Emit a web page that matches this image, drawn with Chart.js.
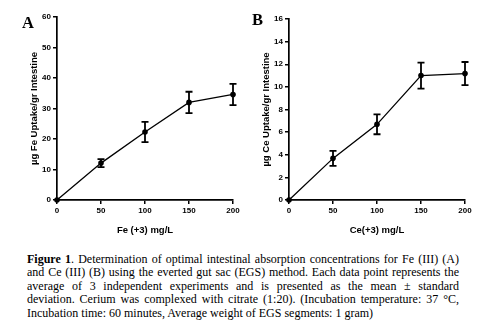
<!DOCTYPE html>
<html><head><meta charset="utf-8">
<script src="https://cdn.jsdelivr.net/npm/chart.js@4/dist/chart.umd.min.js"></script>
<style>
html,body{margin:0;padding:0;background:#fff;}
body{width:484px;height:332px;position:relative;overflow:hidden;}
.cv{position:absolute;top:0;}
.lbl{position:absolute;font-family:"Liberation Serif",serif;font-weight:bold;font-size:16.5px;line-height:1;}
#cap{position:absolute;left:27px;top:253px;width:432px;font-family:"Liberation Serif",serif;font-size:12px;line-height:13.4px;color:#000;}
#cap .j{text-align:justify;text-align-last:justify;white-space:nowrap;}
#cap .l{text-align:left;white-space:nowrap;}
</style></head>
<body>
<div class="cv" style="left:0;width:242px;height:242px;"><canvas id="cA"></canvas></div>
<div class="cv" style="left:242px;width:242px;height:242px;"><canvas id="cB"></canvas></div>
<div class="lbl" style="left:22px;top:15px;">A</div>
<div class="lbl" style="left:252px;top:12px;">B</div>
<div id="cap">
<div class="j"><b>Figure 1</b>. Determination of optimal intestinal absorption concentrations for Fe (III) (A)</div>
<div class="j">and Ce (III) (B) using the everted gut sac (EGS) method. Each data point represents the</div>
<div class="j">average of 3 independent experiments and is presented as the mean ± standard</div>
<div class="j">deviation. Cerium was complexed with citrate (1:20). (Incubation temperature: 37 °C,</div>
<div class="l">Incubation time: 60 minutes, Average weight of EGS segments: 1 gram)</div>
</div>
<script>
const concentrations = [0, 50, 100, 150, 200];
const feUptake = [0, 12.1, 22.3, 32.0, 34.6];
const feSD = [0, 1.3, 3.3, 3.5, 3.5];
const ceUptake = [0, 3.68, 6.69, 11.0, 11.18];
const ceSD = [0, 0.67, 0.88, 1.15, 1.02];

const errorBars = {
  id: 'errorBars',
  afterDatasetsDraw(chart) {
    const ctx = chart.ctx, xs = chart.scales.x, ys = chart.scales.y;
    chart.data.datasets.forEach(ds => {
      ds.data.forEach((p, i) => {
        const e = ds.sd[i]; if (!e) return;
        const x = xs.getPixelForValue(p.x);
        const y1 = ys.getPixelForValue(p.y + e), y2 = ys.getPixelForValue(p.y - e);
        ctx.save(); ctx.strokeStyle = '#000'; ctx.lineWidth = 1.8;
        ctx.beginPath();
        ctx.moveTo(x, y1); ctx.lineTo(x, y2);
        ctx.moveTo(x - 3.5, y1); ctx.lineTo(x + 3.5, y1);
        ctx.moveTo(x - 3.5, y2); ctx.lineTo(x + 3.5, y2);
        ctx.stroke(); ctx.restore();
      });
    });
  }
};

function makeChart(id, vals, sd, yMax, yStep, yTitle, xTitle, pad, yWidth) {
  const tickFont = {family: 'Liberation Sans', weight: 'bold', size: 8};
  const titleFont = {family: 'Liberation Sans', weight: 'bold', size: 9.5};
  return new Chart(document.getElementById(id), {
    type: 'line',
    data: { datasets: [{
      data: concentrations.map((c, i) => ({x: c, y: vals[i]})),
      sd: sd,
      borderColor: '#000', borderWidth: 1.3, backgroundColor: '#000',
      pointRadius: 2.8, pointBackgroundColor: '#000', pointBorderWidth: 0,
      tension: 0, clip: false
    }]},
    options: {
      responsive: true, maintainAspectRatio: false, animation: false,
      devicePixelRatio: 1,
      layout: {padding: pad},
      plugins: {legend: {display: false}, tooltip: {enabled: false}},
      scales: {
        x: {
          type: 'linear', min: 0, max: 200,
          ticks: {stepSize: 50, font: tickFont, color: '#000', padding: 2, maxRotation: 0},
          grid: {drawOnChartArea: false, drawTicks: true, tickLength: 4, color: '#000', lineWidth: 1.5},
          border: {color: '#000', width: 1.7},
          title: {display: true, text: xTitle, color: '#000', font: titleFont, padding: {top: 0, bottom: 6}},
          afterFit: s => { s.height = 42; }
        },
        y: {
          min: 0, max: yMax,
          ticks: {stepSize: yStep, font: tickFont, color: '#000', padding: 2},
          grid: {drawOnChartArea: false, drawTicks: true, tickLength: 4, color: '#000', lineWidth: 1.5},
          border: {color: '#000', width: 1.7},
          title: {display: true, text: yTitle, color: '#000', font: titleFont, padding: {top: 0, bottom: 0}},
          afterFit: s => { s.width = yWidth; }
        }
      }
    },
    plugins: [errorBars]
  });
}

makeChart('cA', feUptake, feSD, 60, 10, 'µg Fe Uptake/gr Intestine', 'Fe (+3) mg/L', {left: 29, top: 17, right: 9, bottom: 0}, 28);
makeChart('cB', ceUptake, ceSD, 16, 2, 'µg Ce Uptake/gr Intestine', 'Ce(+3) mg/L', {left: 19, top: 19, right: 19, bottom: 0}, 28);
</script>
</body></html>
